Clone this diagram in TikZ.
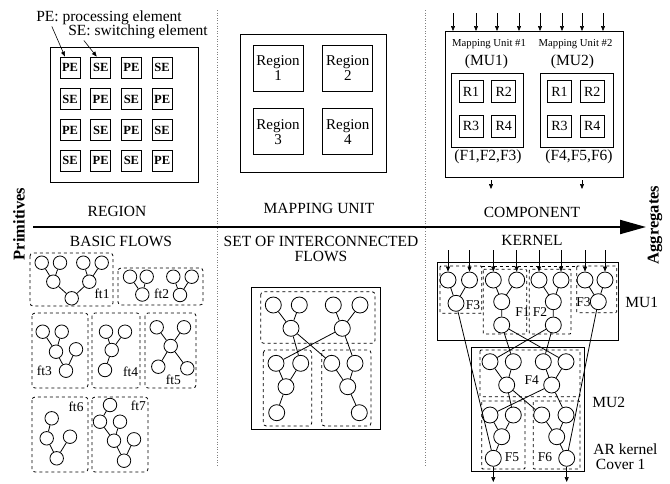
\documentclass[tikz,border=0pt]{standalone}
\usepackage{fontspec}
\setmainfont{Liberation Serif}
\usetikzlibrary{positioning, arrows.meta}

\begin{document}
\begin{tikzpicture}[
    x=1pt, y=-1pt,
    line width=0.8pt,
    font=\fontsize{15.5}{15}\selectfont,
    cell/.style={draw, rectangle, minimum width=20pt, minimum height=21pt, inner sep=0pt, font=\fontsize{12.5}{12.5}\selectfont\bfseries},
    regbox/.style={draw, rectangle, minimum width=50pt, minimum height=46pt, inner sep=0pt, align=center, font=\fontsize{15}{15}\selectfont},
    rbox/.style={draw, rectangle, minimum width=24pt, minimum height=22pt, inner sep=0pt, font=\fontsize{14}{14}\selectfont},
    frame/.style={draw, line width=1pt},
    flow/.style={draw, dashed, rounded corners=3pt},
    kflow/.style={draw, dashed, rounded corners=1pt},
    fnode/.style={draw, circle, minimum size=13.5pt, inner sep=0pt},
    knode/.style={draw, circle, minimum size=16pt, inner sep=0pt},
    lbl/.style={inner sep=0pt, font=\fontsize{13.5}{13.5}\selectfont},
    sep/.style={dotted, line width=0.6pt, gray},
    arrow/.style={-{Triangle[length=5pt, width=4pt]}, line width=0.6pt},
    axis/.style={-{Triangle[length=26pt, width=14pt]}, line width=2pt}
]
\useasboundingbox (0,0) rectangle (670,483);

\node[inner sep=1pt] (pel) at (109,18) {PE: processing element};
\node[inner sep=1pt] (sel) at (138,32) {SE: switching element};
\draw[frame] (50,47) rectangle (198,182);
\foreach \t [count=\i from 0] in {PE,SE,PE,SE} \node[cell] (c\i0) at ({70+30.7*\i},67.5) {\t};
\foreach \t [count=\i from 0] in {SE,PE,SE,PE} \node[cell] (c\i1) at ({70+30.7*\i},99) {\t};
\foreach \t [count=\i from 0] in {PE,SE,PE,SE} \node[cell] (c\i2) at ({70+30.7*\i},130) {\t};
\foreach \t [count=\i from 0] in {SE,PE,SE,PE} \node[cell] (c\i3) at ({70+30.7*\i},160.5) {\t};
\draw[arrow] ([xshift=17pt]pel.south west) -- ([xshift=-5pt]c00.north);
\draw[arrow] ([xshift=17pt]sel.south west) -- ([xshift=-4pt]c10.north);

\draw[frame] (240,34) rectangle (386,172);
\node[regbox] (reg1) at (278,68) {Region\\1};
\node[regbox, right=19pt of reg1] (reg2) {Region\\2};
\node[regbox, below=17pt of reg1] (reg3) {Region\\3};
\node[regbox, right=19pt of reg3] (reg4) {Region\\4};

\draw[frame] (445,31) rectangle (623,177);
\foreach \x [count=\i] in {453,476,497,519,540,562,582,603} {
    \coordinate (mi\i) at (\x,13);
    \coordinate (me\i) at (\x,31);
    \draw[arrow] (mi\i) -- (me\i);
}
\node[font=\fontsize{10.7}{10.7}\selectfont] (mua) at (489,44) {Mapping Unit \#1};
\node[font=\fontsize{10.7}{10.7}\selectfont] (mub) at (575.5,44) {Mapping Unit \#2};
\node (mual) at (486.5,62) {(MU1)};
\node (mubl) at (572.5,62) {(MU2)};
\draw[frame] (451,73) rectangle (523,147);
\draw[frame] (540,73) rectangle (613,147);
\node[rbox] (ra1) at (471,91.5) {R1};
\node[rbox, right=8pt of ra1] (ra2) {R2};
\node[rbox, below=12pt of ra1] (ra3) {R3};
\node[rbox, right=8pt of ra3] (ra4) {R4};
\node[rbox] (rb1) at (559.5,91.5) {R1};
\node[rbox, right=8pt of rb1] (rb2) {R2};
\node[rbox, below=12pt of rb1] (rb3) {R3};
\node[rbox, right=8pt of rb3] (rb4) {R4};
\node (fa) at (488,157) {(F1,F2,F3)};
\node (fb) at (579,157) {(F4,F5,F6)};
\coordinate (oa1) at (491,180);
\coordinate (oa2) at (491,189);
\coordinate (ob1) at (582,180);
\coordinate (ob2) at (582,189);
\draw[arrow] (oa1) -- (oa2);
\draw[arrow] (ob1) -- (ob2);

\coordinate (sa1) at (217,10);
\coordinate (sa2) at (217,467);
\coordinate (sb1) at (425,10);
\coordinate (sb2) at (425,467);
\draw[sep] (sa1) -- (sa2);
\draw[sep] (sb1) -- (sb2);

\coordinate (ax1) at (33,227);
\coordinate (ax2) at (646,227);
\draw[axis] (ax1) -- (ax2);
\node[rotate=90, font=\fontsize{16.5}{16.5}\selectfont\bfseries] (prim) at (19,224) {Primitives};
\node[rotate=90, font=\fontsize{16.5}{16.5}\selectfont\bfseries] (aggr) at (655,225) {Aggregates};
\node (region) at (117,211) {REGION};
\node (mapping) at (319,208) {MAPPING UNIT};
\node (component) at (532,212) {COMPONENT};
\node (basic) at (121,241) {BASIC FLOWS};
\node[align=center] (setof) at (321,248.5) {SET OF INTERCONNECTED\\FLOWS};
\node (kernel) at (532,240) {KERNEL};

\draw[flow] (30,253) rectangle (113,306);
\node[fnode] (a1) at (41.7,262.7) {};
\node[fnode] (a2) at (60,262.7) {};
\node[fnode] (a3) at (83.3,262.7) {};
\node[fnode] (a4) at (101.7,262.7) {};
\node[fnode] (a5) at (53.3,281.7) {};
\node[fnode] (a6) at (89.3,281.7) {};
\node[fnode] (a7) at (71.7,298.3) {};
\node[lbl] (ft1) at (102,294) {ft1};
\draw (a1) -- (a5) (a2) -- (a5) (a3) -- (a6) (a4) -- (a6) (a5) -- (a7) (a6) -- (a7);

\draw[flow] (118,268) rectangle (203,305);
\node[fnode] (b1) at (130,276.7) {};
\node[fnode] (b2) at (146.7,276.7) {};
\node[fnode] (b3) at (173.3,276.7) {};
\node[fnode] (b4) at (191.7,276.7) {};
\node[fnode] (b5) at (142.3,294.5) {};
\node[fnode] (b6) at (180,295) {};
\node[lbl] (ft2) at (161.7,294) {ft2};
\draw (b1) -- (b5) (b2) -- (b5) (b3) -- (b6) (b4) -- (b6);

\draw[flow] (32,313) rectangle (88,388);
\node[fnode] (d1) at (42.7,331.7) {};
\node[fnode] (d2) at (61.7,331.7) {};
\node[fnode] (d3) at (56,351.7) {};
\node[fnode] (d4) at (76,349.3) {};
\node[fnode] (d5) at (66,370.7) {};
\node[lbl] (ft3) at (44.3,371) {ft3};
\draw (d1) -- (d3) (d2) -- (d3) (d3) -- (d5) (d4) -- (d5);

\draw[flow] (92,313) rectangle (140,388);
\node[fnode] (e1) at (106,331.7) {};
\node[fnode] (e2) at (125,331.7) {};
\node[fnode] (e3) at (111.7,350) {};
\node[fnode] (e4) at (105,370) {};
\node[lbl] (ft4) at (130.7,372) {ft4};
\draw (e1) -- (e3) (e2) -- (e3) (e3) -- (e4);

\draw[flow] (145,313) rectangle (196,388);
\node[fnode] (g1) at (156.7,327.3) {};
\node[fnode] (g2) at (184,327.3) {};
\node[fnode] (g3) at (170.7,346) {};
\node[fnode] (g4) at (158.3,366.7) {};
\node[fnode] (g5) at (187.3,368.3) {};
\node[lbl] (ft5) at (173.3,380) {ft5};
\draw (g1) -- (g3) (g2) -- (g3) (g3) -- (g4) (g3) -- (g5);

\draw[flow] (32,397) rectangle (88,472);
\node[fnode] (h1) at (51.7,418.3) {};
\node[fnode] (h2) at (46.7,438.3) {};
\node[fnode] (h3) at (70,436.7) {};
\node[fnode] (h4) at (56.7,458.3) {};
\node[lbl] (ft6) at (76,406.7) {ft6};
\draw (h1) -- (h2) (h2) -- (h4) (h3) -- (h4);

\draw[flow] (92,397) rectangle (148,472);
\node[fnode] (j1) at (110,405) {};
\node[fnode] (j2) at (100,421.7) {};
\node[fnode] (j3) at (120,421.7) {};
\node[fnode] (j4) at (114,440.7) {};
\node[fnode] (j5) at (134,439.3) {};
\node[fnode] (j6) at (124,460.7) {};
\node[lbl] (ft7) at (138.3,406) {ft7};
\draw (j1) -- (j2) (j2) -- (j4) (j3) -- (j4) (j4) -- (j6) (j5) -- (j6);

\draw[frame] (251.7,287.3) rectangle (380.7,429.3);
\draw[flow] (260.7,291.7) rectangle (375,343.3);
\draw[flow] (263.3,350) rectangle (311.7,426);
\draw[flow] (321.7,350) rectangle (371,426);
\node[knode] (m1) at (273.3,305) {};
\node[knode] (m2) at (299.3,305) {};
\node[knode] (m3) at (333.3,305) {};
\node[knode] (m4) at (360,305) {};
\node[knode] (m5) at (291,328.3) {};
\node[knode] (m6) at (342.3,328.3) {};
\node[knode] (n1) at (276,363.3) {};
\node[knode] (n2) at (300.7,363.3) {};
\node[knode] (n3) at (286,386.7) {};
\node[knode] (n4) at (276.7,412.7) {};
\node[knode] (p1) at (331.7,363.3) {};
\node[knode] (p2) at (355,363.3) {};
\node[knode] (p3) at (347.7,386.7) {};
\node[knode] (p4) at (359.3,412.7) {};
\draw (m1) -- (m5) (m2) -- (m5) (m3) -- (m6) (m4) -- (m6);
\draw (m5) -- (n2) (m5) -- (p1) (m6) -- (n1) (m6) -- (p2);
\draw (n1) -- (n3) (n2) -- (n3) (n3) -- (n4) (p1) -- (p3) (p2) -- (p3) (p3) -- (p4);

\draw[frame] (437,262.7) rectangle (618,340);
\draw[frame] (471.7,347.3) rectangle (584,471.7);
\draw[kflow] (440,266) rectangle (481.7,313.3);
\draw[dashed] (481.7,266) -- (576.7,266);
\draw[kflow] (576.7,266) rectangle (616.7,312.7);
\draw[kflow] (483.3,269.3) rectangle (526.7,334);
\draw[kflow] (529.3,269.3) rectangle (571,334);
\draw[kflow] (480,350) rectangle (580,396.7);
\draw[kflow] (481.7,401) rectangle (525,469);
\draw[kflow] (533.3,401) rectangle (580,469);

\node[knode] (ka1) at (448,280) {};
\node[knode] (ka2) at (469.5,280) {};
\node[knode] (ka3) at (456,303.3) {};
\node[lbl] (f3a) at (473,305) {F3};
\node[knode] (kb1) at (493.3,280) {};
\node[knode] (kb2) at (516.7,280) {};
\node[knode] (kb3) at (501.7,301.7) {};
\node[knode] (kb4) at (501.7,325) {};
\node[lbl] (f1) at (522.5,312) {F1};
\node[knode] (kc1) at (539,280) {};
\node[knode] (kc2) at (561,280) {};
\node[knode] (kc3) at (553.3,301.7) {};
\node[knode] (kc4) at (553.3,325) {};
\node[lbl] (f2) at (540,312) {F2};
\node[knode] (kd1) at (585,280) {};
\node[knode] (kd2) at (605,280) {};
\node[knode] (kd3) at (598.3,301.7) {};
\node[lbl] (f3b) at (583.5,302) {F3};

\node[knode] (ke1) at (490,361.7) {};
\node[knode] (ke2) at (513.3,361.7) {};
\node[knode] (ke3) at (543.3,361.7) {};
\node[knode] (ke4) at (566,361.7) {};
\node[knode] (ke5) at (506.7,385) {};
\node[knode] (ke6) at (551.7,385) {};
\node[lbl] (f4) at (531.7,380) {F4};
\node[knode] (kf1) at (490,415) {};
\node[knode] (kf2) at (513.3,415) {};
\node[knode] (kf3) at (501.7,436.7) {};
\node[knode] (kf4) at (493.3,458.3) {};
\node[lbl] (f5) at (512,456.7) {F5};
\node[knode] (kg1) at (541.7,415) {};
\node[knode] (kg2) at (566,415) {};
\node[knode] (kg3) at (556.7,436.7) {};
\node[knode] (kg4) at (566.7,458.3) {};
\node[lbl] (f6) at (545,456.7) {F6};

\foreach \n in {ka1,ka2,kb1,kb2,kc1,kc2,kd1,kd2} {
    \coordinate (i\n) at (\n |- 0,250);
    \draw[arrow] (i\n) -- (\n);
}
\draw (ka1) -- (ka3) (ka2) -- (ka3) (kb1) -- (kb3) (kb2) -- (kb3) (kb3) -- (kb4);
\draw (kc1) -- (kc3) (kc2) -- (kc3) (kc3) -- (kc4) (kd1) -- (kd3) (kd2) -- (kd3);
\draw (kb4) -- (ke2) (kb4) -- (ke4) (kc4) -- (ke1) (kc4) -- (ke3);
\draw (ke1) -- (ke5) (ke2) -- (ke5) (ke3) -- (ke6) (ke4) -- (ke6);
\draw (ke5) -- (kf2) (ke5) -- (kg1) (ke6) -- (kf1) (ke6) -- (kg2);
\draw (kf1) -- (kf3) (kf2) -- (kf3) (kf3) -- (kf4) (kg1) -- (kg3) (kg2) -- (kg3) (kg3) -- (kg4);
\draw (ka3) -- (kf4) (kd3) -- (kg4);
\coordinate (okf) at (493.3,482);
\coordinate (okg) at (566.7,482);
\draw[arrow] (kf4) -- (okf);
\draw[arrow] (kg4) -- (okg);

\node[anchor=west, inner sep=0pt] (mu1) at (625,302) {MU1};
\node[anchor=west, inner sep=0pt] (mu2) at (592,402) {MU2};
\node[anchor=west, inner sep=0pt, align=left] (cover) at (593,457) {AR kernel\\\,Cover 1};

\end{tikzpicture}
\end{document}
